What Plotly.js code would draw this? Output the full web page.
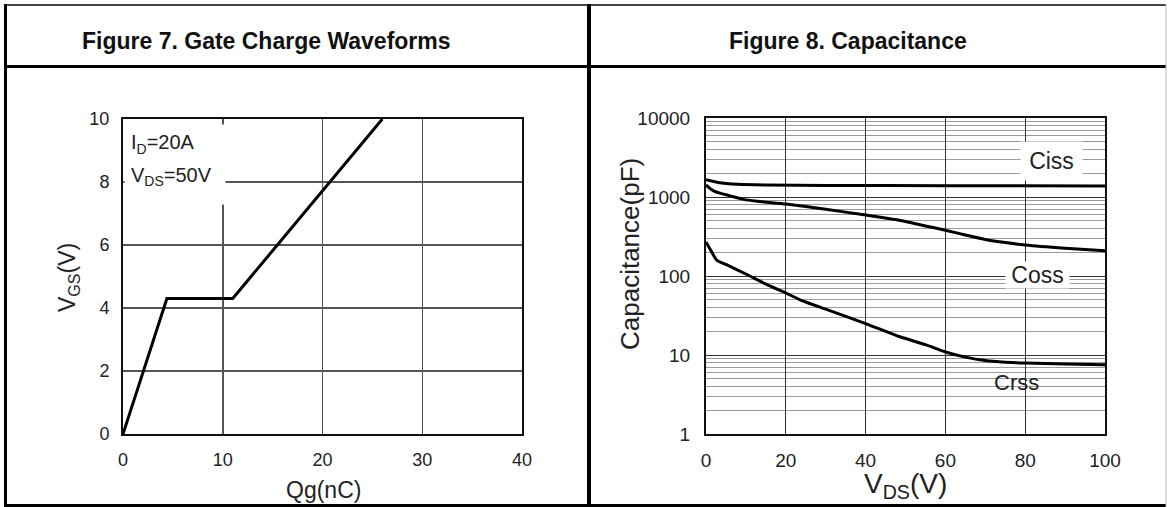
<!DOCTYPE html>
<html>
<head>
<meta charset="utf-8">
<script src="https://cdn.plot.ly/plotly-3.0.1.min.js"></script>
<style>html,body{margin:0;padding:0;background:#fff;}#chart{width:1168px;height:507px;}</style>
</head>
<body>
<div id="chart"></div>
<script>
// ---- Figure 7: Gate charge ----
const qg = [0, 4.4, 11, 26];
const vgs = [0, 4.3, 4.3, 10];
const gateXTicks = [0, 10, 20, 30, 40];
const gateYTicks = [0, 2, 4, 6, 8, 10];

// ---- Figure 8: Capacitance ----
const vdsCiss = [0, 3, 8, 15, 30, 60, 100];
const ciss = [1650, 1530, 1450, 1420, 1400, 1390, 1380];
const vdsCoss = [0, 1, 2, 3.5, 5, 10, 20, 30, 40, 50, 55, 60, 65, 70, 75, 80, 90, 100];
const coss = [1420, 1280, 1190, 1120, 1070, 920, 815, 700, 590, 490, 430, 380, 330, 290, 265, 247, 225, 209];
const vdsCrss = [0, 1, 2.7, 5, 10, 15, 20, 23.6, 30, 40, 48.6, 55, 60, 65, 70, 75, 80, 90, 100];
const crss = [270, 220, 159, 140, 106, 79, 61, 50, 38, 25, 17, 13.5, 10.9, 9.4, 8.5, 8.1, 7.9, 7.7, 7.5];
const capXTicks = [0, 20, 40, 60, 80, 100];
const capYTicks = [1, 10, 100, 1000, 10000];
const capYLabels = ['1', '10', '100', '1000', '10000'];
const capMinor = [];
[1, 10, 100, 1000].forEach(d => { for (let k = 2; k <= 9; k++) capMinor.push(k * d); });

const W = 1168, H = 507;
const px = v => v / W;
const py = v => 1 - v / H;
const FONT = 'Liberation Sans, Arial, sans-serif';
const TXT = '#222';

const traces = [
  {x: qg, y: vgs, xaxis: 'x', yaxis: 'y', mode: 'lines', line: {color: '#000', width: 3}, hoverinfo: 'skip'},
  {x: vdsCiss, y: ciss, xaxis: 'x2', yaxis: 'y2', mode: 'lines', line: {color: '#000', width: 3, shape: 'spline', smoothing: 0.6}, hoverinfo: 'skip'},
  {x: vdsCoss, y: coss, xaxis: 'x2', yaxis: 'y2', mode: 'lines', line: {color: '#000', width: 3, shape: 'spline', smoothing: 0.6}, hoverinfo: 'skip'},
  {x: vdsCrss, y: crss, xaxis: 'x2', yaxis: 'y2', mode: 'lines', line: {color: '#000', width: 3, shape: 'spline', smoothing: 0.6}, hoverinfo: 'skip'}
];

const axBase = {
  showline: true, linecolor: '#111', linewidth: 2, mirror: true,
  zeroline: false, ticks: '', showgrid: true,
  tickfont: {family: FONT, size: 18, color: TXT}, fixedrange: true
};

const layout = {
  width: W, height: H,
  margin: {l: 0, r: 0, t: 0, b: 0},
  paper_bgcolor: '#fff', plot_bgcolor: '#fff',
  showlegend: false,
  font: {family: FONT, color: TXT},
  xaxis: Object.assign({}, axBase, {
    domain: [px(123), px(522)], anchor: 'y', range: [0, 40],
    tickmode: 'array', tickvals: gateXTicks, gridcolor: '#555', gridwidth: 1.5,
    ticklabelstandoff: 8
  }),
  yaxis: Object.assign({}, axBase, {
    domain: [py(434), py(119)], anchor: 'x', range: [0, 10],
    tickmode: 'array', tickvals: gateYTicks, gridcolor: '#555', gridwidth: 1.5,
    ticklabelstandoff: 8
  }),
  xaxis2: Object.assign({}, axBase, {
    domain: [px(706), px(1105)], anchor: 'y2', range: [0, 100],
    tickmode: 'array', tickvals: capXTicks, gridcolor: '#333', gridwidth: 1,
    tickfont: {family: FONT, size: 19, color: TXT}, ticklabelstandoff: 8
  }),
  yaxis2: Object.assign({}, axBase, {
    domain: [py(434), py(118)], anchor: 'x2', type: 'log', range: [0, 4],
    tickmode: 'array', tickvals: capYTicks, ticktext: capYLabels,
    gridcolor: '#333', gridwidth: 1,
    tickfont: {family: FONT, size: 19, color: TXT}, ticklabelstandoff: 10,
    minor: {tickmode: 'array', tickvals: capMinor, showgrid: true, gridcolor: '#9a9a9a', gridwidth: 1, ticks: ''}
  }),
  annotations: [
    {xref: 'paper', yref: 'paper', x: px(266), y: py(41), text: '<b>Figure 7. Gate Charge Waveforms</b>',
     showarrow: false, font: {family: FONT, size: 23, color: '#111'}, xanchor: 'center', yanchor: 'middle'},
    {xref: 'paper', yref: 'paper', x: px(848), y: py(41), text: '<b>Figure 8. Capacitance</b>',
     showarrow: false, font: {family: FONT, size: 23, color: '#111'}, xanchor: 'center', yanchor: 'middle'},
    {xref: 'paper', yref: 'paper', x: px(323), y: py(490), text: 'Qg(nC)', showarrow: false,
     font: {family: FONT, size: 23, color: TXT}, xanchor: 'center', yanchor: 'middle'},
    {xref: 'paper', yref: 'paper', x: px(68), y: py(278), text: 'V<sub>GS</sub>(V)', showarrow: false, textangle: -90,
     font: {family: FONT, size: 23, color: TXT}, xanchor: 'center', yanchor: 'middle'},
    {xref: 'paper', yref: 'paper', x: px(630), y: py(254), text: 'Capacitance(pF)', showarrow: false, textangle: -90,
     font: {family: FONT, size: 26, color: TXT}, xanchor: 'center', yanchor: 'middle'},
    {xref: 'paper', yref: 'paper', x: px(905), y: py(485), text: 'V<sub>DS</sub>(V)', showarrow: false,
     font: {family: FONT, size: 28, color: TXT}, xanchor: 'center', yanchor: 'middle'},
    // condition text box (left plot)
    {xref: 'x', yref: 'y', x: 0.1, y: 9.85, xanchor: 'left', yanchor: 'top', text: 'I<sub>D</sub>=20A',
     showarrow: false, align: 'left', valign: 'middle', width: 88, height: 26, borderpad: 6, bgcolor: '#fff',
     font: {family: FONT, size: 20, color: TXT}},
    {xref: 'x', yref: 'y', x: 0.1, y: 8.8, xanchor: 'left', yanchor: 'top', text: 'V<sub>DS</sub>=50V',
     showarrow: false, align: 'left', valign: 'top', width: 88, height: 34, borderpad: 6, bgcolor: '#fff',
     font: {family: FONT, size: 20, color: TXT}},
    // curve labels (right plot)
    {xref: 'x2', yref: 'y2', x: 86.7, y: Math.log10(2855), text: 'Ciss', showarrow: false,
     width: 61, height: 38, borderpad: 0, bgcolor: '#fff', font: {family: FONT, size: 23, color: TXT}},
    {xref: 'x2', yref: 'y2', x: 83.2, y: Math.log10(103), text: 'Coss', showarrow: false,
     width: 63, height: 26, borderpad: 0, bgcolor: '#fff', font: {family: FONT, size: 23, color: TXT}},
    {xref: 'x2', yref: 'y2', x: 77.7, y: 0.658, text: 'Crss', showarrow: false,
     font: {family: FONT, size: 22, color: TXT}}
  ],
  shapes: [
    {type: 'line', xref: 'paper', yref: 'paper', x0: px(5), x1: px(1166), y0: py(5), y1: py(5), line: {color: '#444', width: 2}},
    {type: 'line', xref: 'paper', yref: 'paper', x0: px(5), x1: px(1166), y0: py(66.5), y1: py(66.5), line: {color: '#000', width: 3}},
    {type: 'line', xref: 'paper', yref: 'paper', x0: px(5), x1: px(1166), y0: py(505.5), y1: py(505.5), line: {color: '#000', width: 3}},
    {type: 'line', xref: 'paper', yref: 'paper', x0: px(5.5), x1: px(5.5), y0: py(4), y1: py(507), line: {color: '#000', width: 3}},
    {type: 'line', xref: 'paper', yref: 'paper', x0: px(589), x1: px(589), y0: py(4), y1: py(507), line: {color: '#000', width: 4}},
    {type: 'line', xref: 'paper', yref: 'paper', x0: px(1166), x1: px(1166), y0: py(4), y1: py(507), line: {color: '#bbb', width: 1}}
  ]
};

Plotly.newPlot('chart', traces, layout, {staticPlot: true, displayModeBar: false});
</script>
</body>
</html>
